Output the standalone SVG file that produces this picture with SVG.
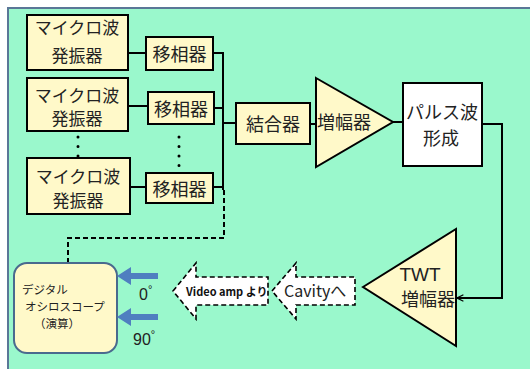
<svg xmlns="http://www.w3.org/2000/svg" width="530" height="369" viewBox="0 0 530 369">
<defs>
<marker id="open" viewBox="0 0 10 10" refX="9" refY="5" markerWidth="8" markerHeight="8" orient="auto" markerUnits="userSpaceOnUse">
<path d="M1,1 L9,5 L1,9" fill="none" stroke="#000" stroke-width="1.5"/>
</marker>
</defs>
<style>
.bx{fill:#FFF9C9;stroke:#000;stroke-width:2}
.t{font-family:"Noto Sans CJK JP","Noto Sans",sans-serif;font-size:18px;fill:#222;text-anchor:middle}
.o{font-size:17px}
.s{font-family:"Noto Sans CJK JP",sans-serif;font-size:11.5px;fill:#222}
.ln{fill:none;stroke:#000;stroke-width:2}
.dash{fill:none;stroke:#000;stroke-width:2;stroke-dasharray:5,3}
.dot{fill:none;stroke:#000;stroke-width:3;stroke-dasharray:0,9.5;stroke-linecap:round}
.ar{fill:#fff;stroke:#000;stroke-width:1.6;stroke-dasharray:5,3}
.blue{fill:#4F7FC0}
</style>
<rect x="0" y="0" width="530" height="369" fill="#fff"/>
<rect x="8" y="8" width="540" height="400" fill="#9AF8CC" stroke="#5A7797" stroke-width="2"/>
<g id="connectors">
<path class="ln" d="M128,53 H146"/>
<path class="ln" d="M128,106 H148"/>
<path class="ln" d="M130,187 H146"/>
<path class="ln" d="M213,53 H223 V190"/>
<path class="ln" d="M214,108 H223"/>
<path class="ln" d="M213,187 H223"/>
<path class="ln" d="M223,123 H236"/>
<path class="ln" d="M310,124 H316"/>
<path class="ln" d="M393,122 H403"/>
<path class="ln" d="M482,124 H502 V298 H457" marker-end="url(#open)"/>
<path class="dash" d="M224,190 V238 H68 V263"/>
<path class="dot" d="M78,137 V158"/>
<path class="dot" d="M179,137 V166"/>
</g>
<g id="osc1"><rect class="bx" x="27" y="15" width="101" height="55"/><text class="t o" x="77" y="34">マイクロ波</text><text class="t o" x="77" y="62">発振器</text></g>
<g id="osc2"><rect class="bx" x="27" y="78" width="101" height="53"/><text class="t o" x="77" y="102">マイクロ波</text><text class="t o" x="77" y="125">発振器</text></g>
<g id="osc3"><rect class="bx" x="27" y="158" width="103" height="56"/><text class="t o" x="78" y="183">マイクロ波</text><text class="t o" x="78" y="207">発振器</text></g>
<g id="ps1"><rect class="bx" x="146" y="37" width="67" height="33"/><text class="t" x="179.5" y="61">移相器</text></g>
<g id="ps2"><rect class="bx" x="148" y="92" width="66" height="32"/><text class="t" x="181" y="116">移相器</text></g>
<g id="ps3"><rect class="bx" x="146" y="173" width="67" height="30"/><text class="t" x="179.5" y="196">移相器</text></g>
<g id="combiner"><rect class="bx" x="236" y="103" width="74" height="41"/><text class="t" x="273" y="131">結合器</text></g>
<g id="amp"><path class="bx" d="M316,78 L393,122 L316,167 Z"/><text class="t" x="317" y="129" style="text-anchor:start">増幅器</text></g>
<g id="pulse"><rect x="403" y="83" width="79" height="83" fill="#fff" stroke="#000" stroke-width="2"/><text class="t" x="442" y="119">パルス波</text><text class="t" x="441" y="145">形成</text></g>
<g id="twt"><path class="bx" d="M363,287 L456,229 L456,346 Z"/><text class="t" x="420" y="281" style="font-family:'Liberation Sans',sans-serif;font-size:19px">TWT</text><text class="t" x="428" y="306">増幅器</text></g>
<g id="cavity"><path class="ar" d="M272,291 L296,263 V277 H355 V305 H296 V319 Z"/><text x="284" y="297" style="font-family:'Noto Sans CJK JP',sans-serif;font-size:16px;fill:#222">Cavityへ</text></g>
<g id="video"><path class="ar" d="M173,291 L196,263 V277 H268 V305 H196 V319 Z"/><text x="186" y="296" style="font-family:'Noto Sans CJK JP',sans-serif;font-size:11px;font-weight:bold;fill:#111">Video amp より</text></g>
<g id="scope"><rect x="14" y="263" width="103" height="90" rx="13" fill="#FFF9C9" stroke="#4A6A8E" stroke-width="2"/>
<text class="s" x="22" y="294">デジタル</text>
<text class="s" x="25" y="311">オシロスコープ</text>
<text class="s" x="34" y="328">（演算）</text></g>
<g id="inputs">
<path class="blue" d="M117,276 L131,267 V273 H158 V279 H131 V285 Z"/>
<path class="blue" d="M117,317 L131,308 V314 H158 V320 H131 V326 Z"/>
<text x="139" y="300" style="font-family:'Liberation Sans',sans-serif;font-size:16px;fill:#222">0<tspan dy="-7" font-size="11">°</tspan></text>
<text x="133" y="345" style="font-family:'Liberation Sans',sans-serif;font-size:16px;fill:#222">90<tspan dy="-7" font-size="11">°</tspan></text>
</g>
</svg>
